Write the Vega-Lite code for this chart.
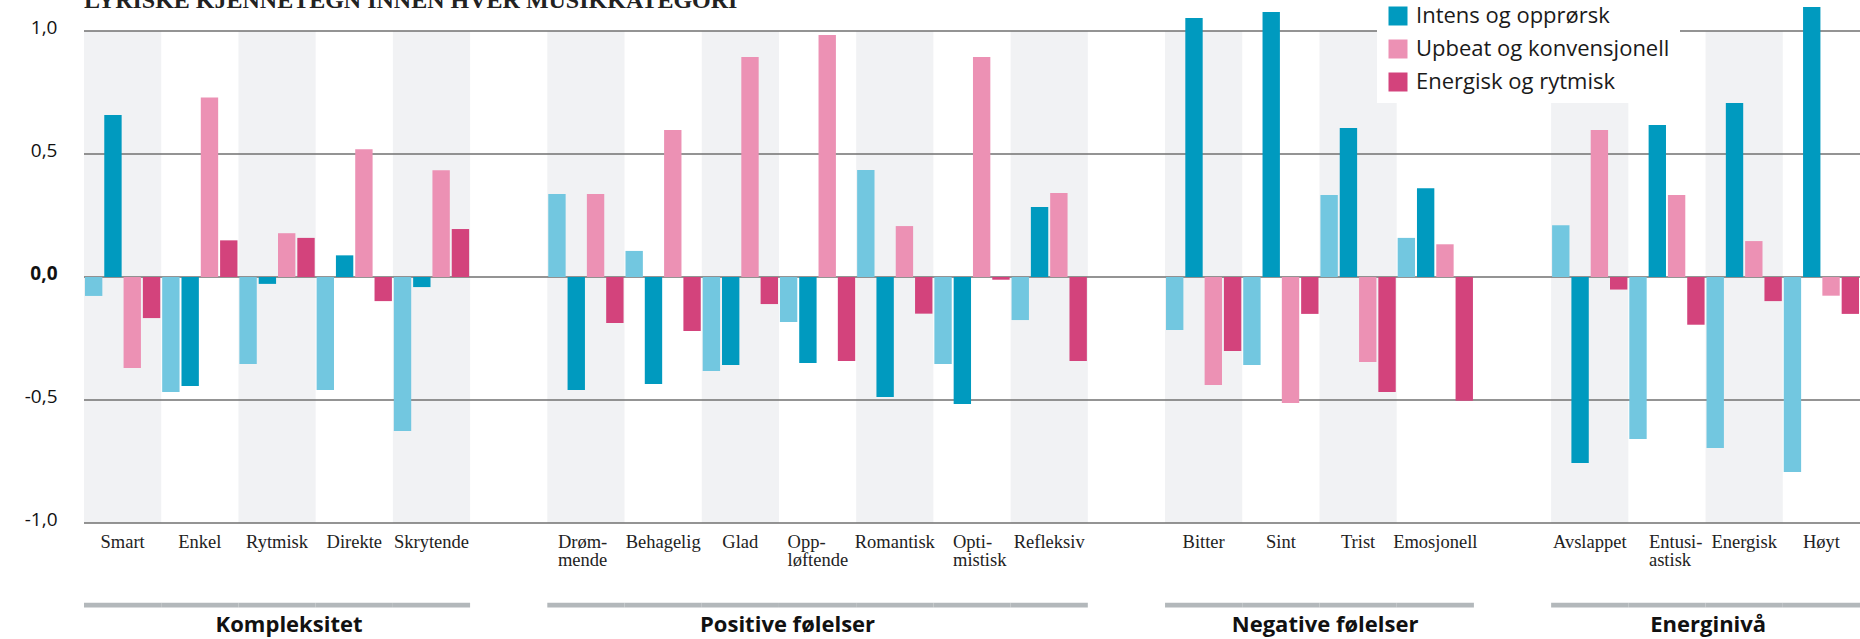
{
  "$schema": "https://vega.github.io/schema/vega-lite/v6.json",
  "width": 1776,
  "height": 492,
  "autosize": {"type": "none"},
  "padding": {"left": 84, "top": 31, "right": 0, "bottom": 116},
  "background": "white",
  "title": {"text": "LYRISKE KJENNETEGN INNEN HVER MUSIKKATEGORI", "anchor": "start", "frame": "group", "font": "Liberation Serif", "fontSize": 24, "fontWeight": "bold", "color": "#222222", "baseline": "alphabetic", "offset": 0, "dy": 36.5},
  "config": {"view": {"stroke": null}},
  "datasets": {
    "kategorier": [
      {"kategori": "Smart", "gruppe": "Kompleksitet", "skygge": 1},
      {"kategori": "Enkel", "gruppe": "Kompleksitet", "skygge": 0},
      {"kategori": "Rytmisk", "gruppe": "Kompleksitet", "skygge": 1},
      {"kategori": "Direkte", "gruppe": "Kompleksitet", "skygge": 0},
      {"kategori": "Skrytende", "gruppe": "Kompleksitet", "skygge": 1},
      {"kategori": "Drømmende", "gruppe": "Positive følelser", "skygge": 1},
      {"kategori": "Behagelig", "gruppe": "Positive følelser", "skygge": 0},
      {"kategori": "Glad", "gruppe": "Positive følelser", "skygge": 1},
      {"kategori": "Oppløftende", "gruppe": "Positive følelser", "skygge": 0},
      {"kategori": "Romantisk", "gruppe": "Positive følelser", "skygge": 1},
      {"kategori": "Optimistisk", "gruppe": "Positive følelser", "skygge": 0},
      {"kategori": "Refleksiv", "gruppe": "Positive følelser", "skygge": 1},
      {"kategori": "Bitter", "gruppe": "Negative følelser", "skygge": 1},
      {"kategori": "Sint", "gruppe": "Negative følelser", "skygge": 0},
      {"kategori": "Trist", "gruppe": "Negative følelser", "skygge": 1},
      {"kategori": "Emosjonell", "gruppe": "Negative følelser", "skygge": 0},
      {"kategori": "Avslappet", "gruppe": "Energinivå", "skygge": 1},
      {"kategori": "Entusiastisk", "gruppe": "Energinivå", "skygge": 0},
      {"kategori": "Energisk", "gruppe": "Energinivå", "skygge": 1},
      {"kategori": "Høyt", "gruppe": "Energinivå", "skygge": 0}
    ],
    "verdier": [
      {"kategori": "Smart", "serie": "Rolig og avslappet", "verdi": -0.077},
      {"kategori": "Smart", "serie": "Intens og opprørsk", "verdi": 0.659},
      {"kategori": "Smart", "serie": "Upbeat og konvensjonell", "verdi": -0.37},
      {"kategori": "Smart", "serie": "Energisk og rytmisk", "verdi": -0.167},
      {"kategori": "Enkel", "serie": "Rolig og avslappet", "verdi": -0.467},
      {"kategori": "Enkel", "serie": "Intens og opprørsk", "verdi": -0.443},
      {"kategori": "Enkel", "serie": "Upbeat og konvensjonell", "verdi": 0.73},
      {"kategori": "Enkel", "serie": "Energisk og rytmisk", "verdi": 0.149},
      {"kategori": "Rytmisk", "serie": "Rolig og avslappet", "verdi": -0.354},
      {"kategori": "Rytmisk", "serie": "Intens og opprørsk", "verdi": -0.028},
      {"kategori": "Rytmisk", "serie": "Upbeat og konvensjonell", "verdi": 0.178},
      {"kategori": "Rytmisk", "serie": "Energisk og rytmisk", "verdi": 0.159},
      {"kategori": "Direkte", "serie": "Rolig og avslappet", "verdi": -0.459},
      {"kategori": "Direkte", "serie": "Intens og opprørsk", "verdi": 0.088},
      {"kategori": "Direkte", "serie": "Upbeat og konvensjonell", "verdi": 0.519},
      {"kategori": "Direkte", "serie": "Energisk og rytmisk", "verdi": -0.098},
      {"kategori": "Skrytende", "serie": "Rolig og avslappet", "verdi": -0.626},
      {"kategori": "Skrytende", "serie": "Intens og opprørsk", "verdi": -0.041},
      {"kategori": "Skrytende", "serie": "Upbeat og konvensjonell", "verdi": 0.434},
      {"kategori": "Skrytende", "serie": "Energisk og rytmisk", "verdi": 0.195},
      {"kategori": "Drømmende", "serie": "Rolig og avslappet", "verdi": 0.337},
      {"kategori": "Drømmende", "serie": "Intens og opprørsk", "verdi": -0.459},
      {"kategori": "Drømmende", "serie": "Upbeat og konvensjonell", "verdi": 0.337},
      {"kategori": "Drømmende", "serie": "Energisk og rytmisk", "verdi": -0.187},
      {"kategori": "Behagelig", "serie": "Rolig og avslappet", "verdi": 0.106},
      {"kategori": "Behagelig", "serie": "Intens og opprørsk", "verdi": -0.435},
      {"kategori": "Behagelig", "serie": "Upbeat og konvensjonell", "verdi": 0.598},
      {"kategori": "Behagelig", "serie": "Energisk og rytmisk", "verdi": -0.22},
      {"kategori": "Glad", "serie": "Rolig og avslappet", "verdi": -0.382},
      {"kategori": "Glad", "serie": "Intens og opprørsk", "verdi": -0.358},
      {"kategori": "Glad", "serie": "Upbeat og konvensjonell", "verdi": 0.894},
      {"kategori": "Glad", "serie": "Energisk og rytmisk", "verdi": -0.11},
      {"kategori": "Oppløftende", "serie": "Rolig og avslappet", "verdi": -0.183},
      {"kategori": "Oppløftende", "serie": "Intens og opprørsk", "verdi": -0.35},
      {"kategori": "Oppløftende", "serie": "Upbeat og konvensjonell", "verdi": 0.984},
      {"kategori": "Oppløftende", "serie": "Energisk og rytmisk", "verdi": -0.341},
      {"kategori": "Romantisk", "serie": "Rolig og avslappet", "verdi": 0.435},
      {"kategori": "Romantisk", "serie": "Intens og opprørsk", "verdi": -0.488},
      {"kategori": "Romantisk", "serie": "Upbeat og konvensjonell", "verdi": 0.207},
      {"kategori": "Romantisk", "serie": "Energisk og rytmisk", "verdi": -0.149},
      {"kategori": "Optimistisk", "serie": "Rolig og avslappet", "verdi": -0.354},
      {"kategori": "Optimistisk", "serie": "Intens og opprørsk", "verdi": -0.516},
      {"kategori": "Optimistisk", "serie": "Upbeat og konvensjonell", "verdi": 0.894},
      {"kategori": "Optimistisk", "serie": "Energisk og rytmisk", "verdi": -0.011},
      {"kategori": "Refleksiv", "serie": "Rolig og avslappet", "verdi": -0.175},
      {"kategori": "Refleksiv", "serie": "Intens og opprørsk", "verdi": 0.285},
      {"kategori": "Refleksiv", "serie": "Upbeat og konvensjonell", "verdi": 0.341},
      {"kategori": "Refleksiv", "serie": "Energisk og rytmisk", "verdi": -0.341},
      {"kategori": "Bitter", "serie": "Rolig og avslappet", "verdi": -0.215},
      {"kategori": "Bitter", "serie": "Intens og opprørsk", "verdi": 1.053},
      {"kategori": "Bitter", "serie": "Upbeat og konvensjonell", "verdi": -0.439},
      {"kategori": "Bitter", "serie": "Energisk og rytmisk", "verdi": -0.301},
      {"kategori": "Sint", "serie": "Rolig og avslappet", "verdi": -0.358},
      {"kategori": "Sint", "serie": "Intens og opprørsk", "verdi": 1.077},
      {"kategori": "Sint", "serie": "Upbeat og konvensjonell", "verdi": -0.512},
      {"kategori": "Sint", "serie": "Energisk og rytmisk", "verdi": -0.15},
      {"kategori": "Trist", "serie": "Rolig og avslappet", "verdi": 0.333},
      {"kategori": "Trist", "serie": "Intens og opprørsk", "verdi": 0.606},
      {"kategori": "Trist", "serie": "Upbeat og konvensjonell", "verdi": -0.346},
      {"kategori": "Trist", "serie": "Energisk og rytmisk", "verdi": -0.467},
      {"kategori": "Emosjonell", "serie": "Rolig og avslappet", "verdi": 0.159},
      {"kategori": "Emosjonell", "serie": "Intens og opprørsk", "verdi": 0.361},
      {"kategori": "Emosjonell", "serie": "Upbeat og konvensjonell", "verdi": 0.133},
      {"kategori": "Emosjonell", "serie": "Energisk og rytmisk", "verdi": -0.503},
      {"kategori": "Avslappet", "serie": "Rolig og avslappet", "verdi": 0.21},
      {"kategori": "Avslappet", "serie": "Intens og opprørsk", "verdi": -0.756},
      {"kategori": "Avslappet", "serie": "Upbeat og konvensjonell", "verdi": 0.598},
      {"kategori": "Avslappet", "serie": "Energisk og rytmisk", "verdi": -0.051},
      {"kategori": "Entusiastisk", "serie": "Rolig og avslappet", "verdi": -0.659},
      {"kategori": "Entusiastisk", "serie": "Intens og opprørsk", "verdi": 0.618},
      {"kategori": "Entusiastisk", "serie": "Upbeat og konvensjonell", "verdi": 0.333},
      {"kategori": "Entusiastisk", "serie": "Energisk og rytmisk", "verdi": -0.194},
      {"kategori": "Energisk", "serie": "Rolig og avslappet", "verdi": -0.695},
      {"kategori": "Energisk", "serie": "Intens og opprørsk", "verdi": 0.707},
      {"kategori": "Energisk", "serie": "Upbeat og konvensjonell", "verdi": 0.146},
      {"kategori": "Energisk", "serie": "Energisk og rytmisk", "verdi": -0.098},
      {"kategori": "Høyt", "serie": "Rolig og avslappet", "verdi": -0.793},
      {"kategori": "Høyt", "serie": "Intens og opprørsk", "verdi": 1.098},
      {"kategori": "Høyt", "serie": "Upbeat og konvensjonell", "verdi": -0.076},
      {"kategori": "Høyt", "serie": "Energisk og rytmisk", "verdi": -0.15}
    ]
  },
  "layer": [
    {
      "data": {"name": "kategorier"},
      "transform": [{"filter": "datum.skygge == 1"}],
      "mark": {"type": "rect", "color": "#f1f2f4"},
      "encoding": {
        "x": {"field": "kategori", "type": "nominal", "title": null, "scale": {"type": "band", "domain": ["Smart","Enkel","Rytmisk","Direkte","Skrytende"," ","Drømmende","Behagelig","Glad","Oppløftende","Romantisk","Optimistisk","Refleksiv","  ","Bitter","Sint","Trist","Emosjonell","   ","Avslappet","Entusiastisk","Energisk","Høyt"], "paddingInner": 0, "paddingOuter": 0}},
        "y": {"datum": 1, "type": "quantitative"},
        "y2": {"datum": -1}
      }
    },
    {
      "data": {"values": [{"verdi": -1}, {"verdi": -0.5}, {"verdi": 0}, {"verdi": 0.5}, {"verdi": 1}]},
      "mark": {"type": "rule", "color": "#707070", "strokeWidth": 1.6},
      "encoding": {
        "y": {"field": "verdi", "type": "quantitative", "scale": {"domain": [-1, 1], "nice": false, "zero": false},
          "axis": {"values": [-1, -0.5, 0, 0.5, 1], "title": null, "grid": false, "domain": false, "ticks": false, "tickSize": 0, "labelPadding": 27, "labelFont": "Open Sans", "labelFontSize": 19, "labelColor": "#111111", "labelBaseline": "alphabetic", "labelOffset": 2,
            "labelFontWeight": {"condition": {"test": "datum.value === 0", "value": "bold"}, "value": "normal"},
            "labelExpr": "(datum.value < 0 ? '-' : '') + replace(format(abs(datum.value), '.1f'), '.', ',')"}}
      }
    },
    {
      "data": {"name": "verdier"},
      "mark": {"type": "bar"},
      "encoding": {
        "x": {"field": "kategori", "type": "nominal", "title": null, "scale": {"type": "band", "domain": ["Smart","Enkel","Rytmisk","Direkte","Skrytende"," ","Drømmende","Behagelig","Glad","Oppløftende","Romantisk","Optimistisk","Refleksiv","  ","Bitter","Sint","Trist","Emosjonell","   ","Avslappet","Entusiastisk","Energisk","Høyt"], "paddingInner": 0, "paddingOuter": 0},
          "axis": {"title": null, "domain": false, "ticks": false, "tickSize": 0, "grid": false, "labelPadding": 24.7, "labelFont": "Liberation Serif", "labelFontSize": 18.5, "labelColor": "#222222", "labelBaseline": "alphabetic", "labelLineHeight": 18.3, "labelAngle": 0, "labelLimit": 300, "labelOverlap": false,
            "labelExpr": "datum.value == 'Drømmende' ? ['Drøm-', 'mende'] : datum.value == 'Oppløftende' ? ['Opp-', 'løftende'] : datum.value == 'Optimistisk' ? ['Opti-', 'mistisk'] : datum.value == 'Entusiastisk' ? ['Entusi-', 'astisk'] : datum.label",
            "labelAlign": {"condition": {"test": "indexof(['Drømmende', 'Oppløftende', 'Optimistisk', 'Entusiastisk'], datum.value) >= 0", "value": "left"}, "value": "center"},
            "labelOffset": {"condition": [{"test": "datum.value == 'Drømmende'", "value": -28}, {"test": "datum.value == 'Oppløftende'", "value": -30}, {"test": "datum.value == 'Optimistisk'", "value": -19}, {"test": "datum.value == 'Entusiastisk'", "value": -18}], "value": 0}}},
        "xOffset": {"field": "serie", "type": "nominal", "scale": {"domain": ["Rolig og avslappet", "Intens og opprørsk", "Upbeat og konvensjonell", "Energisk og rytmisk"], "paddingInner": 0.1, "paddingOuter": 0.05}},
        "y": {"field": "verdi", "type": "quantitative", "scale": {"domain": [-1, 1], "nice": false, "zero": false},
          "axis": {"values": [-1, -0.5, 0, 0.5, 1], "title": null, "grid": false, "domain": false, "ticks": false, "tickSize": 0, "labelPadding": 27, "labelFont": "Open Sans", "labelFontSize": 19, "labelColor": "#111111", "labelBaseline": "alphabetic", "labelOffset": 2,
            "labelFontWeight": {"condition": {"test": "datum.value === 0", "value": "bold"}, "value": "normal"},
            "labelExpr": "(datum.value < 0 ? '-' : '') + replace(format(abs(datum.value), '.1f'), '.', ',')"}},
        "color": {"field": "serie", "type": "nominal",
          "scale": {"domain": ["Rolig og avslappet", "Intens og opprørsk", "Upbeat og konvensjonell", "Energisk og rytmisk"], "range": ["#72c7e0", "#009abf", "#ec91b4", "#d3437c"]},
          "legend": {"values": ["Intens og opprørsk", "Upbeat og konvensjonell", "Energisk og rytmisk"], "title": null, "orient": "none", "legendX": 1293, "legendY": -36, "fillColor": "white", "padding": 10, "rowPadding": 11, "symbolType": "square", "symbolSize": 361, "symbolStrokeWidth": 0, "labelFont": "Open Sans", "labelFontSize": 22, "labelColor": "#1a1a1a", "labelOffset": 7, "labelLimit": 400}}
      }
    },
    {
      "data": {"name": "kategorier"},
      "mark": {"type": "rect", "color": "#b3b8bb"},
      "encoding": {
        "x": {"field": "kategori", "type": "nominal", "title": null, "scale": {"type": "band", "domain": ["Smart","Enkel","Rytmisk","Direkte","Skrytende"," ","Drømmende","Behagelig","Glad","Oppløftende","Romantisk","Optimistisk","Refleksiv","  ","Bitter","Sint","Trist","Emosjonell","   ","Avslappet","Entusiastisk","Energisk","Høyt"], "paddingInner": 0, "paddingOuter": 0}},
        "y": {"datum": -1.324, "type": "quantitative"},
        "y2": {"datum": -1.343}
      }
    },
    {
      "data": {"values": [{"gruppe": "Kompleksitet", "kategori": "Rytmisk"}]},
      "mark": {"type": "text", "font": "Open Sans", "fontWeight": "bold", "fontSize": 22, "color": "#111111", "baseline": "alphabetic", "align": "center", "dx": 12},
      "encoding": {
        "x": {"field": "kategori", "type": "nominal", "title": null, "scale": {"type": "band", "domain": ["Smart","Enkel","Rytmisk","Direkte","Skrytende"," ","Drømmende","Behagelig","Glad","Oppløftende","Romantisk","Optimistisk","Refleksiv","  ","Bitter","Sint","Trist","Emosjonell","   ","Avslappet","Entusiastisk","Energisk","Høyt"], "paddingInner": 0, "paddingOuter": 0}},
        "y": {"datum": -1.444, "type": "quantitative"},
        "text": {"field": "gruppe"}
      }
    },
    {
      "data": {"values": [{"gruppe": "Positive følelser", "kategori": "Oppløftende"}]},
      "mark": {"type": "text", "font": "Open Sans", "fontWeight": "bold", "fontSize": 22, "color": "#111111", "baseline": "alphabetic", "align": "center", "dx": -30},
      "encoding": {
        "x": {"field": "kategori", "type": "nominal", "title": null, "scale": {"type": "band", "domain": ["Smart","Enkel","Rytmisk","Direkte","Skrytende"," ","Drømmende","Behagelig","Glad","Oppløftende","Romantisk","Optimistisk","Refleksiv","  ","Bitter","Sint","Trist","Emosjonell","   ","Avslappet","Entusiastisk","Energisk","Høyt"], "paddingInner": 0, "paddingOuter": 0}},
        "y": {"datum": -1.444, "type": "quantitative"},
        "text": {"field": "gruppe"}
      }
    },
    {
      "data": {"values": [{"gruppe": "Negative følelser", "kategori": "Trist"}]},
      "mark": {"type": "text", "font": "Open Sans", "fontWeight": "bold", "fontSize": 22, "color": "#111111", "baseline": "alphabetic", "align": "center", "dx": -33},
      "encoding": {
        "x": {"field": "kategori", "type": "nominal", "title": null, "scale": {"type": "band", "domain": ["Smart","Enkel","Rytmisk","Direkte","Skrytende"," ","Drømmende","Behagelig","Glad","Oppløftende","Romantisk","Optimistisk","Refleksiv","  ","Bitter","Sint","Trist","Emosjonell","   ","Avslappet","Entusiastisk","Energisk","Høyt"], "paddingInner": 0, "paddingOuter": 0}},
        "y": {"datum": -1.444, "type": "quantitative"},
        "text": {"field": "gruppe"}
      }
    },
    {
      "data": {"values": [{"gruppe": "Energinivå", "kategori": "Energisk"}]},
      "mark": {"type": "text", "font": "Open Sans", "fontWeight": "bold", "fontSize": 22, "color": "#111111", "baseline": "alphabetic", "align": "center", "dx": -36},
      "encoding": {
        "x": {"field": "kategori", "type": "nominal", "title": null, "scale": {"type": "band", "domain": ["Smart","Enkel","Rytmisk","Direkte","Skrytende"," ","Drømmende","Behagelig","Glad","Oppløftende","Romantisk","Optimistisk","Refleksiv","  ","Bitter","Sint","Trist","Emosjonell","   ","Avslappet","Entusiastisk","Energisk","Høyt"], "paddingInner": 0, "paddingOuter": 0}},
        "y": {"datum": -1.444, "type": "quantitative"},
        "text": {"field": "gruppe"}
      }
    }
  ]
}
